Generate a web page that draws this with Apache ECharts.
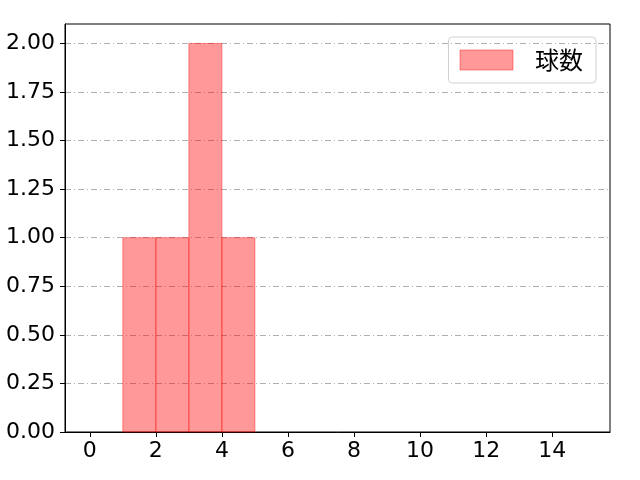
<!DOCTYPE html>
<html><head><meta charset="utf-8">
<script src="https://cdn.jsdelivr.net/npm/echarts@6/dist/echarts.min.js"></script>
<style>html,body{margin:0;padding:0;background:#fff}#c{width:640px;height:480px}</style>
</head><body><div id="c"></div>
<script>
const binEdges = [1, 2, 3, 4, 5];
const counts = [1, 1, 2, 1];
const xTicks = [0, 2, 4, 6, 8, 10, 12, 14];
const yTicks = [0, 0.25, 0.5, 0.75, 1, 1.25, 1.5, 1.75, 2];
const seriesName = '球数';

const data = counts.map((c, i) => [binEdges[i], binEdges[i + 1], c]);
const cjk = '"Noto Sans CJK JP", "Noto Sans", sans-serif';
const num = '"DejaVu Sans", sans-serif';
const chart = echarts.init(document.getElementById('c'));
chart.setOption({
  animation: false,
  grid: { left: 65, right: 30, top: 24, bottom: 48, show: true, borderColor: '#000', borderWidth: 1 },
  legend: {
    show: true, right: 44, top: 37, orient: 'vertical',
    data: [{ name: seriesName, icon: 'rect', itemStyle: { color: 'rgba(255,0,0,0.4)', borderColor: 'rgba(255,0,0,0.4)', borderWidth: 1 } }],
    itemWidth: 53, itemHeight: 20, itemGap: 10,
    padding: [10, 13, 10, 11],
    borderColor: '#d0d0d0', borderWidth: 1, borderRadius: 4,
    textStyle: { fontSize: 24, lineHeight: 26, color: '#000', fontFamily: cjk, padding: [0, 0, 0, 17] }
  },
  xAxis: {
    type: 'value', min: -0.75, max: 15.75,
    axisLine: { show: true, onZero: false, lineStyle: { color: '#000' } },
    axisTick: { show: true, customValues: xTicks, length: 5, lineStyle: { color: '#000' } },
    axisLabel: { customValues: xTicks, fontSize: 22, color: '#000', margin: 8, fontFamily: num },
    splitLine: { show: false }
  },
  yAxis: {
    type: 'value', min: 0, max: 2.1, interval: 0.25,
    axisLine: { show: true, onZero: false, lineStyle: { color: '#000' } },
    axisTick: { show: true, customValues: yTicks, length: 5, lineStyle: { color: '#000' } },
    axisLabel: { customValues: yTicks, fontSize: 22, color: '#000', margin: 10, fontFamily: num,
      formatter: v => v.toFixed(2) },
    splitLine: { show: true, showMaxLine: true, showMinLine: false, lineStyle: { color: '#b0b0b0', width: 1, type: [6, 3, 1, 3] } }
  },
  series: [{
    name: seriesName, type: 'custom',
    renderItem: (params, api) => {
      const p0 = api.coord([api.value(0), api.value(2)]);
      const p1 = api.coord([api.value(1), 0]);
      return {
        type: 'rect',
        shape: { x: p0[0], y: p0[1], width: p1[0] - p0[0], height: p1[1] - p0[1] },
        style: { fill: 'rgba(255,0,0,0.4)', stroke: 'rgba(255,0,0,0.4)', lineWidth: 1 }
      };
    },
    encode: { x: [0, 1], y: 2 },
    data: data, z: 3
  }]
});
</script></body></html>
